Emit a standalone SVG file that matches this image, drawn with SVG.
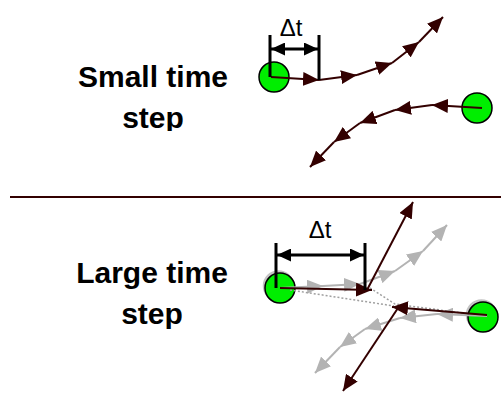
<svg xmlns="http://www.w3.org/2000/svg" width="501" height="394" viewBox="0 0 501 394">
<style>
.lbl{font-family:"Liberation Sans",Arial,sans-serif;font-weight:bold;font-size:30px;fill:#000;text-anchor:middle}
.dt{font-family:"Liberation Sans",Arial,sans-serif;font-size:24px;fill:#000;text-anchor:middle}
.dk{fill:none;stroke:#330000;stroke-width:2;marker-end:url(#ah)}
.gr{fill:none;stroke:#b3b3b3;stroke-width:2;marker-end:url(#ag)}
.bar{stroke:#000;stroke-width:3;fill:none}
.dim{stroke:#000;stroke-width:3;fill:none;marker-start:url(#abs);marker-end:url(#ab)}
.ball{fill:#00ee00;stroke:#000;stroke-width:1.5}
.ghost{fill:#c4c4c4;stroke:#c4c4c4;stroke-width:1.5}
.dot{fill:none;stroke:#a0a0a0;stroke-width:1.5;stroke-dasharray:2,2}
</style>
<defs>
<marker id="ah" viewBox="0 0 16 14" refX="16" refY="7" markerWidth="16" markerHeight="14" markerUnits="userSpaceOnUse" orient="auto"><path d="M0,0 L16,7 L0,14 z" fill="#330000"/></marker>
<marker id="ag" viewBox="0 0 16 14" refX="16" refY="7" markerWidth="16" markerHeight="14" markerUnits="userSpaceOnUse" orient="auto"><path d="M0,0 L16,7 L0,14 z" fill="#b3b3b3"/></marker>
<marker id="ab" viewBox="0 0 14 13" refX="14" refY="6.5" markerWidth="14" markerHeight="13" markerUnits="userSpaceOnUse" orient="auto"><path d="M0,0 L14,6.5 L0,13 z" fill="#000"/></marker>
<marker id="abs" viewBox="0 0 14 13" refX="0" refY="6.5" markerWidth="14" markerHeight="13" markerUnits="userSpaceOnUse" orient="auto"><path d="M14,0 L0,6.5 L14,13 z" fill="#000"/></marker>
<clipPath id="c1"><rect x="0" y="0" width="250" height="131"/></clipPath>
<clipPath id="c2"><rect x="0" y="200" width="250" height="129"/></clipPath>
</defs>

<g id="label-small" clip-path="url(#c1)">
<text class="lbl" x="153" y="87">Small time</text>
<text class="lbl" x="153" y="128">step</text>
</g>
<g id="label-large" clip-path="url(#c2)">
<text class="lbl" x="152" y="283">Large time</text>
<text class="lbl" x="152" y="324">step</text>
</g>

<line id="divider" x1="10" y1="197" x2="501" y2="197" stroke="#330000" stroke-width="2"/>

<g id="particle-a-small"><circle class="ball" cx="274" cy="77" r="15"/></g>
<g id="particle-b-small"><circle class="ball" cx="477" cy="108" r="15"/></g>
<g id="particle-a-large"><circle class="ghost" cx="278.5" cy="286" r="15"/><circle class="ball" cx="280" cy="288" r="15"/></g>
<g id="particle-b-large"><circle class="ghost" cx="481.5" cy="315" r="15"/><circle class="ball" cx="483" cy="317" r="15"/></g>

<g id="connectors">
<line class="dk" x1="271" y1="77" x2="319" y2="80"/>
<line class="dk" x1="319" y1="80" x2="357" y2="75"/>
<line class="dk" x1="357" y1="75" x2="392" y2="63"/>
<line class="dk" x1="392" y1="63" x2="419" y2="42"/>
<line class="dk" x1="419" y1="42" x2="443" y2="17"/>
<line class="dk" x1="482" y1="108" x2="432" y2="105"/>
<line class="dk" x1="432" y1="105" x2="395" y2="110"/>
<line class="dk" x1="395" y1="110" x2="360" y2="123"/>
<line class="dk" x1="360" y1="123" x2="334" y2="142"/>
<line class="dk" x1="334" y1="142" x2="310" y2="167"/>
<line class="gr" x1="280" y1="288" x2="323" y2="286"/>
<line class="gr" x1="323" y1="286" x2="360" y2="284"/>
<line class="gr" x1="360" y1="284" x2="395" y2="271"/>
<line class="gr" x1="395" y1="271" x2="423" y2="251"/>
<line class="gr" x1="423" y1="251" x2="447" y2="225"/>
<line class="gr" x1="487" y1="316" x2="437" y2="314"/>
<line class="gr" x1="437" y1="314" x2="400" y2="318"/>
<line class="gr" x1="400" y1="318" x2="365" y2="329"/>
<line class="gr" x1="365" y1="329" x2="340" y2="347"/>
<line class="gr" x1="340" y1="347" x2="315" y2="373"/>
<polyline class="dot" points="290,290 394,306"/>
<polyline class="dot" points="370,288 395,304 470,314"/>
<line class="dk" x1="280" y1="288" x2="372" y2="290"/>
<line class="dk" x1="367" y1="290" x2="413" y2="202"/>
<line class="dk" x1="487" y1="315" x2="392" y2="307"/>
<line class="dk" x1="398" y1="308" x2="343" y2="391"/>
</g>

<g id="dt-small">
<line class="bar" x1="270" y1="35" x2="270" y2="77"/>
<line class="bar" x1="319" y1="35" x2="319" y2="80"/>
<line class="dim" x1="271" y1="49" x2="318" y2="49"/>
<text class="dt" x="291" y="36">Δt</text>
</g>
<g id="dt-large">
<line class="bar" x1="276" y1="243" x2="276" y2="288"/>
<line class="bar" x1="365" y1="243" x2="365" y2="290"/>
<line class="dim" x1="277" y1="255" x2="364" y2="255"/>
<text class="dt" x="320" y="238">Δt</text>
</g>
</svg>
